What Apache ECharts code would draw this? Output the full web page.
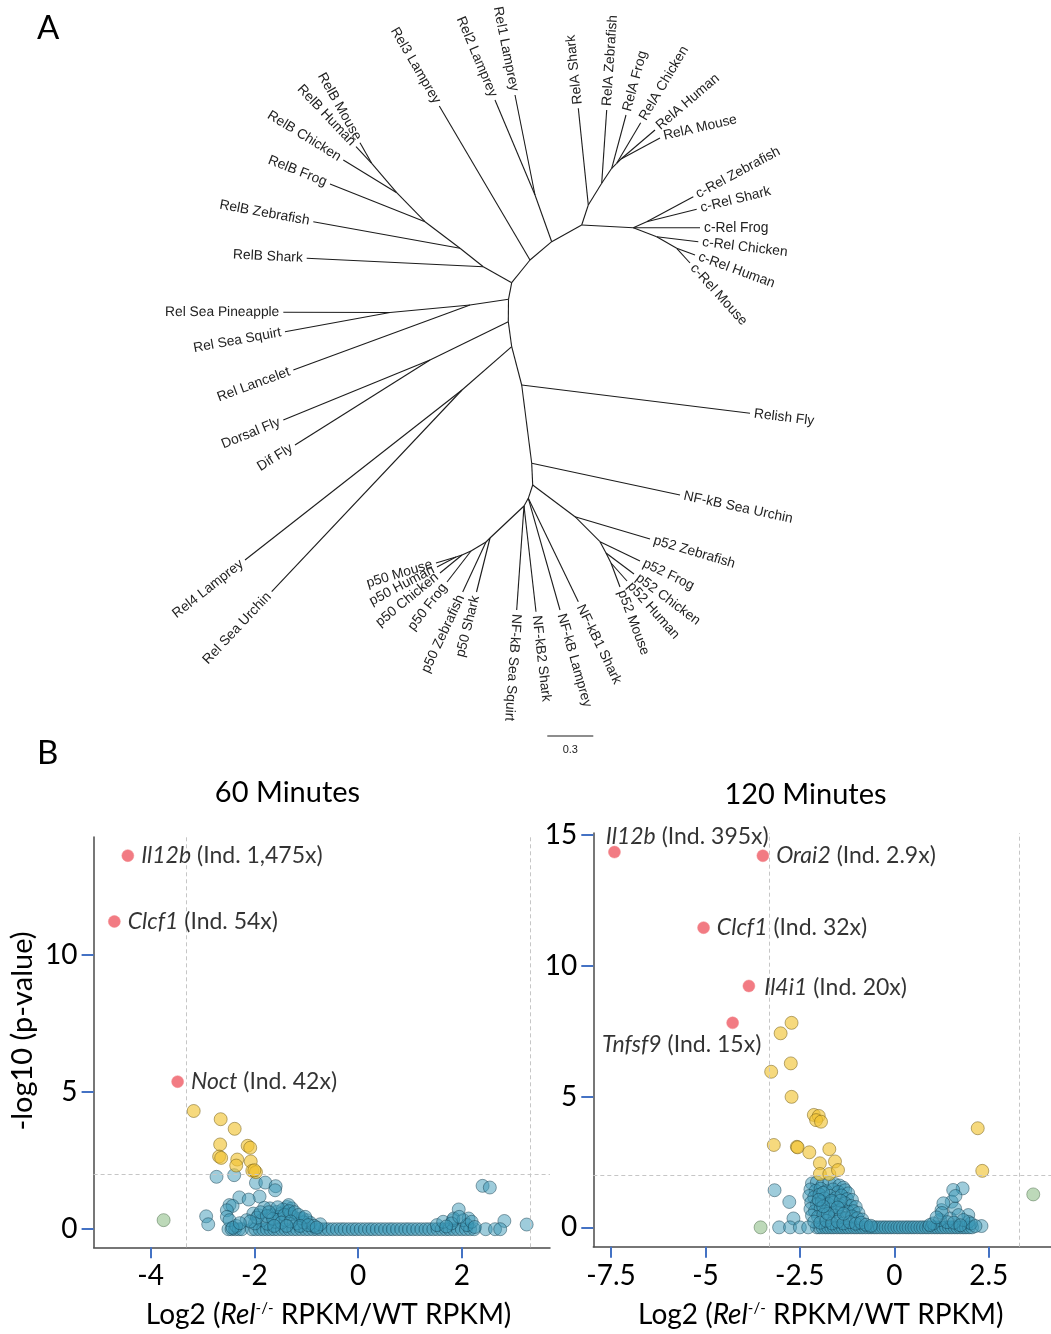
<!DOCTYPE html>
<html>
<head>
<meta charset="utf-8">
<script src="https://cdn.jsdelivr.net/npm/echarts@6/dist/echarts.min.js"></script>
<style>
  html, body { margin: 0; padding: 0; background: #ffffff; }
  #chart { width: 1051px; height: 1334px; }
</style>
</head>
<body>
<div id="chart"></div>
<script>
// ---------------- Panel A: unrooted Rel / NF-kB family tree ----------------
// Tree layout units: 153.3 units correspond to 1 substitution per site.
// [node id, parent id, x, y]  (leaves carry the protein name as id)
const treeNodes = [
  ['b10', null, 532.7, 485], ['b9', 'b10', 531.7, 463.3], ['b8', 'b9', 521.7, 385],
  ['b7', 'b8', 511.7, 346.7], ['b6', 'b7', 508.3, 321.7], ['b5', 'b6', 508.5, 299.3],
  ['b4', 'b5', 511.7, 282.7], ['b3', 'b4', 530, 260], ['b2', 'b3', 551.7, 241.7],
  ['b1', 'b2', 581.7, 225],
  // RelA
  ['a1', 'b1', 588.3, 205], ['RelA Shark', 'a1', 578.3, 108.3],
  ['a2', 'a1', 601.7, 183.3], ['RelA Zebrafish', 'a2', 606.7, 110],
  ['a3', 'a2', 611.7, 168.3], ['RelA Frog', 'a3', 626, 115],
  ['a4', 'a3', 616.7, 163.3], ['RelA Chicken', 'a4', 640.7, 122.7],
  ['a5', 'a4', 621, 159], ['RelA Human', 'a5', 655, 130], ['RelA Mouse', 'a5', 660, 138],
  // c-Rel
  ['c1', 'b1', 633.3, 227.7], ['c-Rel Frog', 'c1', 700, 227.7],
  ['c2', 'c1', 646.7, 221.7], ['c-Rel Zebrafish', 'c2', 693.3, 196.7], ['c-Rel Shark', 'c2', 696.7, 209.3],
  ['c3', 'c1', 656.7, 236.7], ['c-Rel Chicken', 'c3', 698.3, 241.7],
  ['c4', 'c3', 676.7, 248.3], ['c-Rel Human', 'c4', 695, 255], ['c-Rel Mouse', 'c4', 690, 263],
  // lamprey Rel
  ['l1', 'b2', 535, 195], ['Rel1 Lamprey', 'l1', 515, 95], ['Rel2 Lamprey', 'l1', 495, 100],
  ['Rel3 Lamprey', 'b3', 439.3, 106],
  // RelB
  ['r1', 'b4', 483.3, 266.7], ['RelB Shark', 'r1', 306.7, 258.3],
  ['r2', 'r1', 460, 248.3], ['RelB Zebrafish', 'r2', 313.3, 221.7],
  ['r3', 'r2', 425, 221.7], ['RelB Frog', 'r3', 330, 184],
  ['r4', 'r3', 396.7, 192.7], ['RelB Chicken', 'r4', 343.3, 160],
  ['r5', 'r4', 371.7, 163.3], ['RelB Human', 'r5', 356, 146.7], ['RelB Mouse', 'r5', 360, 142.7],
  // invertebrate / basal Rel
  ['s1', 'b5', 470, 305], ['Rel Lancelet', 's1', 293.3, 370],
  ['s2', 's1', 390, 312.5], ['Rel Sea Pineapple', 's2', 283.3, 312.3], ['Rel Sea Squirt', 's2', 285, 331.7],
  ['d1', 'b6', 430, 360], ['Dorsal Fly', 'd1', 283.3, 420], ['Dif Fly', 'd1', 295, 445],
  ['u1', 'b7', 462, 390], ['Rel4 Lamprey', 'u1', 245, 560], ['Rel Sea Urchin', 'u1', 271.7, 591.7],
  ['Relish Fly', 'b8', 750, 413.3],
  ['NF-kB Sea Urchin', 'b9', 680, 495],
  // p52
  ['q0', 'b10', 575, 516.7], ['p52 Zebrafish', 'q0', 650, 539],
  ['q1', 'q0', 600, 541.7], ['p52 Frog', 'q1', 640, 561],
  ['q2', 'q1', 606, 553], ['p52 Chicken', 'q2', 634, 574],
  ['q3', 'q2', 611, 563], ['p52 Human', 'q3', 627, 581], ['p52 Mouse', 'q3', 620, 587],
  // NF-kB
  ['k1', 'b10', 528.3, 498.3], ['NF-kB Lamprey', 'k1', 560, 610], ['NF-kB1 Shark', 'k1', 578.3, 601.7],
  ['k2', 'k1', 524, 506], ['NF-kB Sea Squirt', 'k2', 516.7, 610], ['NF-kB2 Shark', 'k2', 536, 611.7],
  // p50
  ['p0', 'k2', 490, 538], ['p50 Shark', 'p0', 476.5, 592],
  ['p1', 'p0', 486, 542], ['p50 Zebrafish', 'p1', 462.7, 592],
  ['p2', 'p1', 471, 551], ['p50 Frog', 'p2', 447, 582],
  ['p3', 'p2', 462, 555], ['p50 Chicken', 'p3', 440, 573],
  ['p4', 'p3', 456, 557], ['p50 Human', 'p4', 437, 567], ['p50 Mouse', 'p4', 436, 563]
];
const treeUnitsPerDistance = 153.3;
const scaleBarLength = 0.3;
const leafLabelAngle = { 'RelA Mouse': 13 };

// ---------------- Panel B: volcano plots ----------------
const foldCut = Math.log2(10);   // 10-fold change
const pCut = 2;                  // -log10(p) = 2

// 60 minutes
const red60Genes = ['Il12b', 'Clcf1', 'Noct'];
const red60Fold = ['1,475x', '54x', '42x'];
const red60 = [[-4.44, 13.62], [-4.70, 11.22], [-3.48, 5.38]];
const yellow60 = [[-3.17, 4.31], [-2.65, 4.01], [-2.38, 3.66], [-2.66, 3.09], [-2.68, 2.65], [-2.64, 2.60],
  [-2.13, 3.04], [-2.08, 2.97], [-2.33, 2.54], [-2.35, 2.32], [-2.07, 2.47], [-2.04, 2.13], [-1.97, 2.08], [-2.00, 2.15]];
const green60 = [[-3.75, 0.33]];
const blue60 = [
  [-2.73, 1.91], [-2.39, 1.97], [-1.97, 1.69], [-1.79, 1.70], [-1.59, 1.57], [-1.60, 1.42], [-1.90, 1.19],
  [-2.29, 1.16], [-2.11, 1.08], [-2.48, 0.88], [-2.42, 0.85], [-2.53, 0.69], [-2.53, 0.45], [-2.48, 0.33],
  [-2.93, 0.47], [-2.89, 0.18],
  [-2.02, 0.57], [-1.92, 0.51], [-1.70, 0.76], [-1.57, 0.63], [-1.37, 0.81], [-1.28, 0.76], [-1.34, 0.88],
  [-1.67, 0.51], [-1.48, 0.57], [-1.25, 0.45], [-1.12, 0.39], [-0.99, 0.33], [-0.92, 0.23], [-0.73, 0.18],
  [-1.86, 0.33], [-1.99, 0.21], [-2.15, 0.33], [-1.60, 0.27], [-1.40, 0.33], [-1.18, 0.21], [-1.81, 0.78],
  [-1.08, 0.40], [-1.45, 0.72], [-1.52, 0.45], [-1.30, 0.55], [-1.05, 0.25], [-0.85, 0.12], [-1.75, 0.20],
  [-2.35, 0.12], [-2.42, 0.05],
  [-1.95, 0.42], [-1.88, 0.62], [-1.76, 0.48], [-1.64, 0.38], [-1.55, 0.80], [-1.42, 0.52], [-1.33, 0.66],
  [-1.22, 0.62], [-1.15, 0.52], [-1.02, 0.45], [-1.72, 0.62], [-1.48, 0.24], [-1.30, 0.28], [-1.12, 0.12],
  [-0.96, 0.15], [-2.08, 0.28], [-1.62, 0.12], [-1.38, 0.12], [-0.80, 0.06], [-2.28, 0.22],
  [2.40, 1.58], [2.54, 1.52], [1.94, 0.72], [2.82, 0.30], [3.25, 0.17], [2.46, 0.0], [2.64, 0.0], [2.74, 0.0],
  [1.83, 0.33], [1.52, 0.15], [1.64, 0.27], [1.84, 0.39], [2.03, 0.33], [2.13, 0.39], [1.80, 0.21], [2.10, 0.15],
  [2.19, 0.27], [1.95, 0.45], [1.70, 0.10], [2.25, 0.08]
];
// genes with p ~ 1 sit on the baseline
const base60 = [-2.50, -2.44, -2.37, -2.30, -2.24, -2.05, -1.98, -1.90, -1.83, -1.76, -1.69, -1.62, -1.55, -1.47,
  -1.40, -1.33, -1.25, -1.18, -1.10, -1.02, -0.95, -0.87, -0.80, -0.72, -0.64, -0.57, -0.49, -0.41, -0.33, -0.26,
  -0.18, -0.10, -0.03, 0.05, 0.13, 0.21, 0.28, 0.36, 0.44, 0.52, 0.60, 0.67, 0.75, 0.83, 0.91, 0.98, 1.06, 1.14,
  1.22, 1.30, 1.37, 1.45, 1.53, 1.61, 1.69, 1.76, 1.84, 1.92, 2.00, 2.08, 2.16, 2.24];

// 120 minutes
const red120Genes = ['Il12b', 'Orai2', 'Clcf1', 'Il4i1', 'Tnfsf9'];
const red120Fold = ['395x', '2.9x', '32x', '20x', '15x'];
const red120 = [[-7.41, 14.35], [-3.48, 14.21], [-5.05, 11.46], [-3.85, 9.23], [-4.28, 7.82]];
const yellow120 = [[-2.72, 7.82], [-3.01, 7.42], [-3.26, 5.95], [-2.74, 6.27], [-2.72, 4.99], [-2.13, 4.30],
  [-2.00, 4.26], [-2.07, 4.10], [-1.94, 4.04], [-3.19, 3.15], [-2.58, 3.08], [-2.56, 3.06], [-2.25, 2.87],
  [-1.72, 2.99], [-1.97, 2.45], [-1.57, 2.52], [-1.97, 2.04], [-1.72, 2.04], [-1.49, 2.19], [2.21, 3.79], [2.33, 2.16]];
const green120 = [[-3.54, 0.0], [3.68, 1.26]];
const blue120 = [
  [-3.17, 1.42], [-2.78, 0.97], [-2.67, 0.34], [-3.05, 0.0], [-2.76, 0.0], [-2.50, 0.0], [-2.28, 0.0],
  [-2.18, 1.68], [-2.05, 1.72], [-1.90, 1.62], [-1.72, 1.70], [-1.58, 1.66], [-1.45, 1.60], [-1.35, 1.52],
  [-2.22, 1.45], [-2.08, 1.40], [-1.95, 1.48], [-1.80, 1.38], [-1.62, 1.45], [-1.48, 1.35], [-1.30, 1.42], [-1.22, 1.30],
  [-2.25, 1.20], [-2.12, 1.15], [-1.98, 1.25], [-1.85, 1.10], [-1.70, 1.20], [-1.55, 1.12], [-1.40, 1.22], [-1.25, 1.08], [-1.12, 1.05],
  [-2.20, 0.95], [-2.05, 0.88], [-1.92, 0.98], [-1.75, 0.90], [-1.60, 0.95], [-1.45, 0.85], [-1.30, 0.92], [-1.15, 0.82], [-1.02, 0.78],
  [-2.22, 0.70], [-2.10, 0.62], [-1.95, 0.72], [-1.82, 0.60], [-1.68, 0.68], [-1.52, 0.62], [-1.38, 0.70], [-1.22, 0.58], [-1.08, 0.62], [-0.95, 0.55],
  [-2.18, 0.45], [-2.02, 0.40], [-1.88, 0.48], [-1.72, 0.38], [-1.58, 0.45], [-1.42, 0.40], [-1.28, 0.35], [-1.12, 0.42], [-0.98, 0.35], [-0.85, 0.30],
  [-2.12, 0.22], [-1.96, 0.18], [-1.80, 0.25], [-1.65, 0.15], [-1.50, 0.22], [-1.35, 0.15], [-1.18, 0.20], [-1.02, 0.14], [-0.88, 0.18], [-0.75, 0.10], [-0.62, 0.06],
  [-1.88, 1.32], [-1.66, 1.02], [-1.42, 1.02], [-1.50, 0.76], [-1.76, 0.52], [-1.34, 0.52], [-1.88, 0.80], [-2.00, 1.05],
  [1.81, 1.49], [1.56, 1.43], [1.52, 0.98], [1.61, 0.72], [1.25, 0.66], [1.96, 0.47], [1.96, 0.21], [2.31, 0.05],
  [1.48, 0.34], [1.70, 0.47], [1.21, 0.28], [1.03, 0.15], [0.94, 0.09], [1.30, 0.92], [1.26, 0.55], [2.03, 0.15],
  [1.83, 0.28], [1.40, 0.20], [1.62, 1.20], [1.12, 0.38], [1.58, 0.18], [1.75, 0.08], [2.15, 0.05]
];
const base120 = [-2.05, -1.98, -1.90, -1.82, -1.75, -1.67, -1.60, -1.52, -1.44, -1.37, -1.29, -1.22, -1.14, -1.06,
  -0.99, -0.91, -0.84, -0.76, -0.68, -0.61, -0.53, -0.46, -0.38, -0.30, -0.23, -0.15, -0.08, 0.0, 0.08, 0.15, 0.23,
  0.31, 0.38, 0.46, 0.53, 0.61, 0.69, 0.76, 0.84, 0.91, 0.99, 1.07, 1.14, 1.22, 1.29, 1.37, 1.45, 1.52, 1.60, 1.67,
  1.75, 1.83, 1.90, 1.98, 2.06];

const xTicks60 = [-4, -2, 0, 2];
const yTicks60 = [0, 5, 10];
const xTicks120 = [-7.5, -5, -2.5, 0, 2.5];
const yTicks120 = [0, 5, 10, 15];

// ---------------- build ----------------
const FONT = 'Lato, "Open Sans", sans-serif';
const TREE_FONT = '"Liberation Sans", Arial, sans-serif';

const nodeById = {};
treeNodes.forEach(n => { nodeById[n[0]] = n; });
const hasChild = {};
treeNodes.forEach(n => { if (n[1]) hasChild[n[1]] = true; });
const treeEdges = treeNodes.filter(n => n[1]).map(n => {
  const p = nodeById[n[1]];
  return [p[2], p[3], n[2], n[3]];
});
const treeLeaves = treeNodes.filter(n => !hasChild[n[0]]).map(n => {
  const p = nodeById[n[1]];
  return { name: n[0], value: [n[2], n[3], p[2], p[3]] };
});

const chart = echarts.init(document.getElementById('chart'), null, { renderer: 'canvas' });

const baseRow = xs => xs.map(x => [x, 0]);
const blueStyle = { color: 'rgba(58,152,182,0.62)', borderColor: 'rgba(22,62,78,0.75)', borderWidth: 0.8 };
const yellowStyle = { color: 'rgba(241,195,52,0.8)', borderColor: 'rgba(112,90,20,0.8)', borderWidth: 0.8 };
const greenStyle = { color: 'rgba(164,202,158,0.9)', borderColor: 'rgba(82,112,80,0.8)', borderWidth: 0.8 };
const redStyle = { color: '#ef5a64', borderColor: '#f2868c', borderWidth: 0.6 };

const richLabel = {
  i: { fontStyle: 'italic', fontSize: 23, fontFamily: FONT, color: '#000' },
  n: { fontSize: 23, fontFamily: FONT, color: '#000' }
};
const labelShift120 = { Il12b: [-21, -16], Tnfsf9: [-143, 22], Il4i1: [3, 2] };

function redSeries(points, genes, folds, xi, shifts) {
  return {
    type: 'scatter', xAxisIndex: xi, yAxisIndex: xi, symbolSize: 12, z: 5,
    itemStyle: redStyle,
    data: points.map((p, i) => ({
      value: p, name: genes[i],
      label: { offset: (shifts && shifts[genes[i]]) || [1, 0] }
    })),
    label: {
      show: true, position: 'right', distance: 6,
      formatter: prm => '{i|' + genes[prm.dataIndex] + '}{n| (Ind. ' + folds[prm.dataIndex] + ')}',
      rich: richLabel
    }
  };
}

function dotSeries(points, style, xi, extra) {
  return Object.assign({
    type: 'scatter', xAxisIndex: xi, yAxisIndex: xi, symbolSize: 13,
    itemStyle: style, data: points
  }, extra || {});
}

const cutLines = {
  silent: true, symbol: ['none', 'none'], label: { show: false },
  lineStyle: { type: [4, 3], color: '#c6c6c6', width: 1 },
  data: [{ xAxis: -foldCut }, { xAxis: foldCut }, { yAxis: pCut }]
};

function valueAxisX(grid, min, max, ticks) {
  return {
    type: 'value', gridIndex: grid, min: min, max: max,
    axisLine: { show: true, onZero: false, lineStyle: { color: '#4a4a4a', width: 1.5 } },
    axisTick: { show: true, customValues: ticks, length: 11, lineStyle: { color: '#4472c4', width: 2 } },
    axisLabel: { customValues: ticks, fontSize: 28, fontFamily: FONT, color: '#000', margin: 15 },
    splitLine: { show: false }
  };
}
function valueAxisY(grid, min, max, ticks) {
  return {
    type: 'value', gridIndex: grid, min: min, max: max,
    axisLine: { show: true, onZero: false, lineStyle: { color: '#4a4a4a', width: 1.5 } },
    axisTick: { show: true, customValues: ticks, length: 12, lineStyle: { color: '#4472c4', width: 2 } },
    axisLabel: { customValues: ticks, fontSize: 28, fontFamily: FONT, color: '#000', margin: 16 },
    splitLine: { show: false }
  };
}

const xTitleRich = {
  n: { fontSize: 28, fontFamily: FONT, fill: '#000' },
  i: { fontSize: 28, fontFamily: FONT, fontStyle: 'italic', fill: '#000' },
  s: { fontSize: 15, fontFamily: FONT, fill: '#000', verticalAlign: 'top' }
};
const xTitleText = '{n|Log2 (}{i|Rel}{s|-/-}{n| RPKM/WT RPKM)}';

const option = {
  animation: false,
  backgroundColor: '#ffffff',
  grid: [
    { left: 0, top: 0, width: 1051, height: 740, outerBoundsMode: 'none' },
    { left: 93.6, top: 837, width: 456.4, height: 410.3, outerBoundsMode: 'none' },
    { left: 593.3, top: 833, width: 457.7, height: 413.7, outerBoundsMode: 'none' }
  ],
  xAxis: [
    { type: 'value', gridIndex: 0, min: 0, max: 1051, show: false },
    valueAxisX(1, -5.1, 3.7, xTicks60),
    valueAxisX(2, -7.97, 4.15, xTicks120)
  ],
  yAxis: [
    { type: 'value', gridIndex: 0, min: 0, max: 740, inverse: true, show: false },
    valueAxisY(1, -0.66, 14.3, yTicks60),
    valueAxisY(2, -0.74, 15.08, yTicks120)
  ],
  graphic: [
    { type: 'text', left: 37, top: 12, style: { text: 'A', fontSize: 33, fontFamily: FONT, fill: '#000' } },
    { type: 'text', left: 37, top: 737, style: { text: 'B', fontSize: 33, fontFamily: FONT, fill: '#000' } },
    { type: 'text', x: 287.5, y: 793, style: { text: '60 Minutes', fontSize: 29, fontFamily: FONT, fill: '#000', align: 'center', verticalAlign: 'middle' } },
    { type: 'text', x: 805.5, y: 795, style: { text: '120 Minutes', fontSize: 29, fontFamily: FONT, fill: '#000', align: 'center', verticalAlign: 'middle' } },
    { type: 'text', x: 23, y: 1031, rotation: Math.PI / 2, style: { text: '-log10 (p-value)', fontSize: 29, fontFamily: FONT, fill: '#000', align: 'center', verticalAlign: 'middle' } },
    { type: 'text', x: 328.6, y: 1315, style: { text: xTitleText, rich: xTitleRich, align: 'center', verticalAlign: 'middle' } },
    { type: 'text', x: 820.8, y: 1315, style: { text: xTitleText, rich: xTitleRich, align: 'center', verticalAlign: 'middle' } }
  ],
  series: [
    // tree branches
    {
      type: 'custom', xAxisIndex: 0, yAxisIndex: 0, clip: false, silent: true,
      data: treeEdges,
      renderItem: (params, api) => {
        const a = api.coord([api.value(0), api.value(1)]);
        const b = api.coord([api.value(2), api.value(3)]);
        return { type: 'line', shape: { x1: a[0], y1: a[1], x2: b[0], y2: b[1] },
          style: { stroke: '#1c1c1c', lineWidth: 1.1 } };
      }
    },
    // leaf names, written along each terminal branch
    {
      type: 'custom', xAxisIndex: 0, yAxisIndex: 0, clip: false, silent: true,
      data: treeLeaves,
      renderItem: (params, api) => {
        const leaf = treeLeaves[params.dataIndex];
        const tip = api.coord([api.value(0), api.value(1)]);
        const par = api.coord([api.value(2), api.value(3)]);
        let ang = Math.atan2(-(tip[1] - par[1]), tip[0] - par[0]);
        const dirX = Math.cos(ang), dirY = -Math.sin(ang);
        const gap = 4;
        if (leafLabelAngle[leaf.name] !== undefined) ang = leafLabelAngle[leaf.name] * Math.PI / 180;
        const flip = Math.abs(ang) > 98 * Math.PI / 180;
        const rot = flip ? (ang > 0 ? ang - Math.PI : ang + Math.PI) : ang;
        return {
          type: 'text', x: tip[0] + dirX * gap, y: tip[1] + dirY * gap, rotation: rot,
          style: { text: leaf.name, fontSize: 13.8, fontFamily: TREE_FONT, fill: '#222',
            align: flip ? 'right' : 'left', verticalAlign: 'middle' }
        };
      }
    },
    // scale bar
    {
      type: 'custom', xAxisIndex: 0, yAxisIndex: 0, clip: false, silent: true,
      data: [[547.3, 736, scaleBarLength]],
      renderItem: (params, api) => {
        const a = api.coord([api.value(0), api.value(1)]);
        const b = api.coord([api.value(0) + api.value(2) * treeUnitsPerDistance, api.value(1)]);
        return { type: 'group', children: [
          { type: 'line', shape: { x1: a[0], y1: a[1], x2: b[0], y2: b[1] }, style: { stroke: '#1c1c1c', lineWidth: 1.1 } },
          { type: 'text', x: (a[0] + b[0]) / 2, y: a[1] + 14, style: { text: String(api.value(2)), fontSize: 11, fontFamily: TREE_FONT, fill: '#222', align: 'center', verticalAlign: 'middle' } }
        ] };
      }
    },
    // 60 min
    dotSeries(baseRow(base60), blueStyle, 1, { markLine: cutLines }),
    dotSeries(blue60, blueStyle, 1),
    dotSeries(green60, greenStyle, 1),
    dotSeries(yellow60, yellowStyle, 1),
    redSeries(red60, red60Genes, red60Fold, 1, null),
    // 120 min
    dotSeries(baseRow(base120), blueStyle, 2, { markLine: cutLines }),
    dotSeries(blue120, blueStyle, 2),
    dotSeries(green120, greenStyle, 2),
    dotSeries(yellow120, yellowStyle, 2),
    redSeries(red120, red120Genes, red120Fold, 2, labelShift120)
  ]
};

chart.setOption(option);
</script>
</body>
</html>
